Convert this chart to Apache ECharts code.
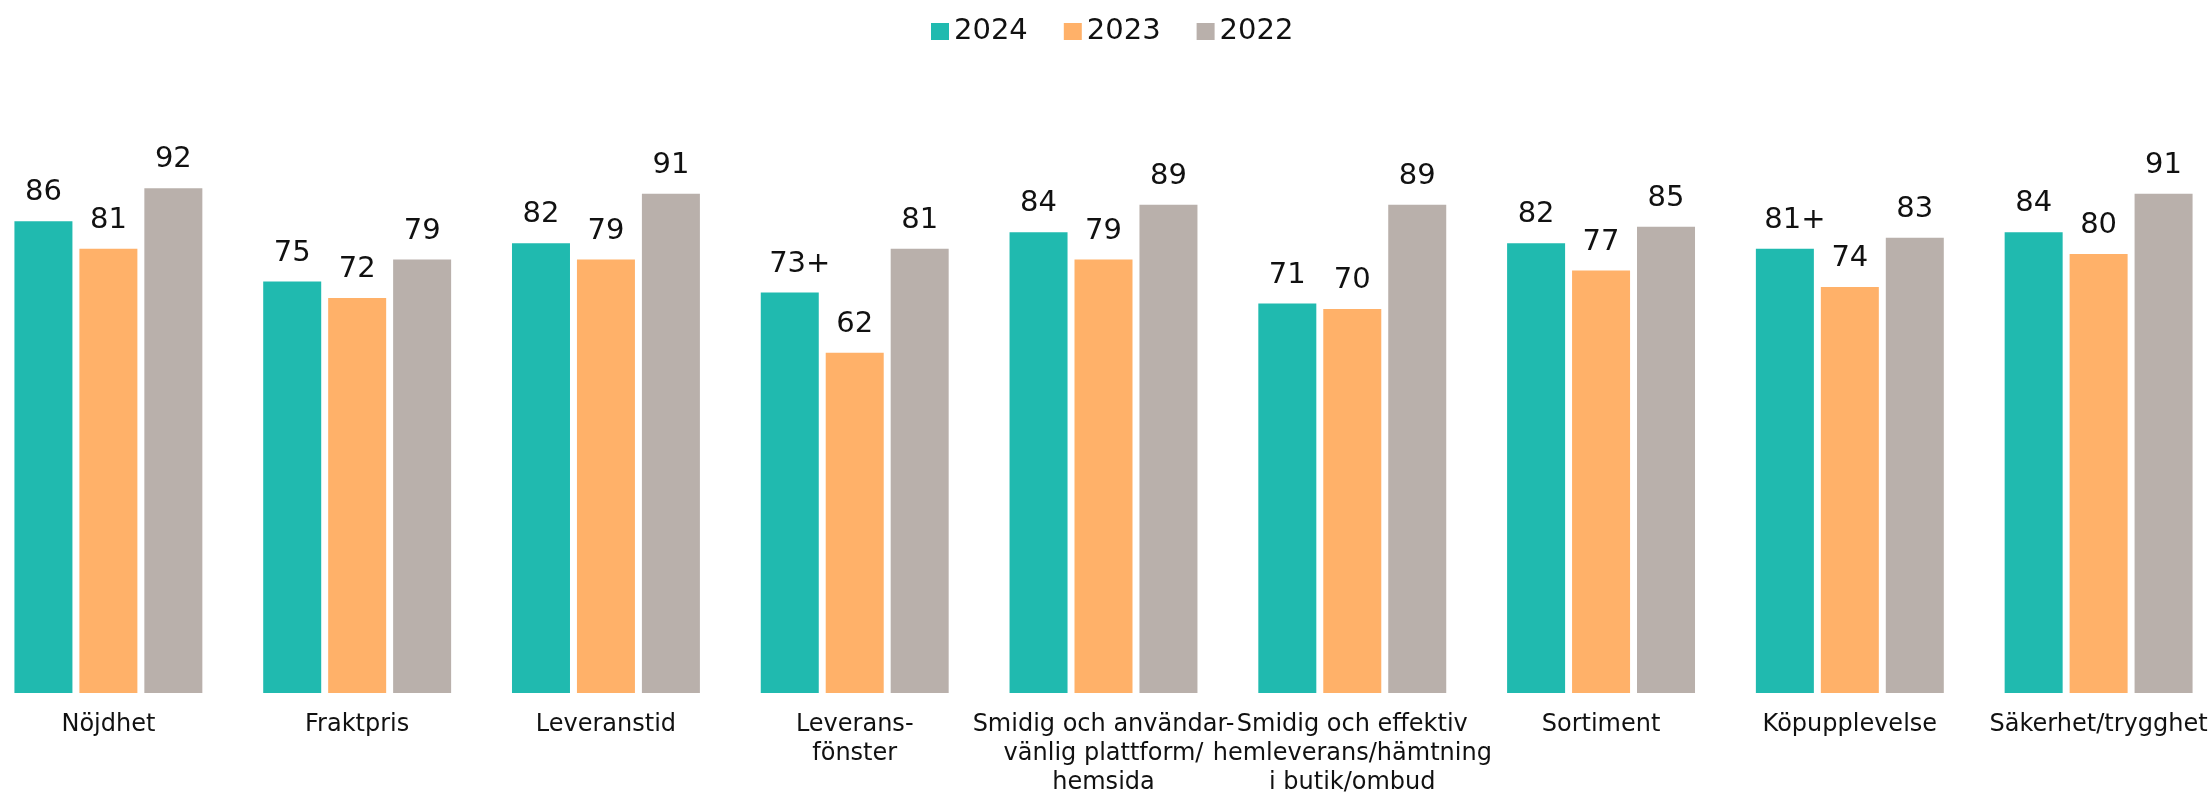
<!DOCTYPE html>
<html>
<head>
<meta charset="utf-8">
<script src="https://cdn.jsdelivr.net/npm/echarts@6/dist/echarts.min.js"></script>
<style>
  html, body { margin: 0; padding: 0; background: #fff; overflow: hidden; }
  /* kategorierna är bredare än fönstret, så ytan sticker ut lite på sidorna */
  #chart { position: absolute; left: -16px; top: 0; width: 2239px; height: 793px; }
</style>
</head>
<body>
<div id="chart"></div>
<script>
  // kategorier (radbrytningar som i originalet)
  var categories = [
    'Nöjdhet',
    'Fraktpris',
    'Leveranstid',
    'Leverans-\nfönster',
    'Smidig och användar-\nvänlig plattform/\nhemsida',
    'Smidig och effektiv\nhemleverans/hämtning\ni butik/ombud',
    'Sortiment',
    'Köpupplevelse',
    'Säkerhet/trygghet'
  ]
  var years = ['2024', '2023', '2022']
  var values2024 = [86, 75, 82, 73, 84, 71, 82, 81, 84]
  var values2023 = [81, 72, 79, 62, 79, 70, 77, 74, 80]
  var values2022 = [92, 79, 91, 81, 89, 89, 85, 83, 91]
  // signifikansmarkering efter värdet
  var marks2024 = ['', '', '', '+', '', '', '', '+', '']
  var marks2023 = ['', '', '', '', '', '', '', '', '']
  var marks2022 = ['', '', '', '', '', '', '', '', '']

  var colors = ['#20baaf', '#ffb169', '#b9b0ab']
  var font = '"DejaVu Sans", "Liberation Sans", sans-serif'

  function buildData(vals, marks) {
    return vals.map(function(v, i) {
      if (!marks[i]) return v
      return {
        value: v,
        label: { formatter: '{c}' + marks[i], offset: [10, 0] }
      }
    })
  }

  function makeSeries(name, vals, marks, color) {
    return {
      name: name,
      type: 'bar',
      data: buildData(vals, marks),
      barWidth: 58,
      barGap: '12%',
      itemStyle: { color: color },
      label: {
        show: true,
        position: 'top',
        distance: 14,
        color: '#111',
        fontFamily: font,
        fontSize: 29
      }
    }
  }

  var chart = echarts.init(document.getElementById('chart'))
  var option = {
    backgroundColor: '#fff',
    animation: false,
    color: colors,
    legend: {
      data: years,
      top: 12,
      left: 942,
      itemWidth: 18,
      itemHeight: 17,
      itemGap: 36,
      icon: 'rect',
      textStyle: { fontFamily: font, fontSize: 29, color: '#111' }
    },
    grid: {
      left: 0,
      right: 0,
      top: 144.4,
      bottom: 100,
      outerBoundsMode: 'none'
    },
    xAxis: {
      type: 'category',
      data: categories,
      axisLine: { show: false },
      axisTick: { show: false },
      axisLabel: {
        interval: 0,
        margin: 17,
        color: '#111',
        fontFamily: font,
        fontSize: 24,
        lineHeight: 29
      }
    },
    yAxis: {
      type: 'value',
      min: 0,
      max: 100,
      show: false,
      splitLine: { show: false }
    },
    series: [
      makeSeries(years[0], values2024, marks2024, colors[0]),
      makeSeries(years[1], values2023, marks2023, colors[1]),
      makeSeries(years[2], values2022, marks2022, colors[2])
    ]
  }
  chart.setOption(option)
</script>
</body>
</html>
